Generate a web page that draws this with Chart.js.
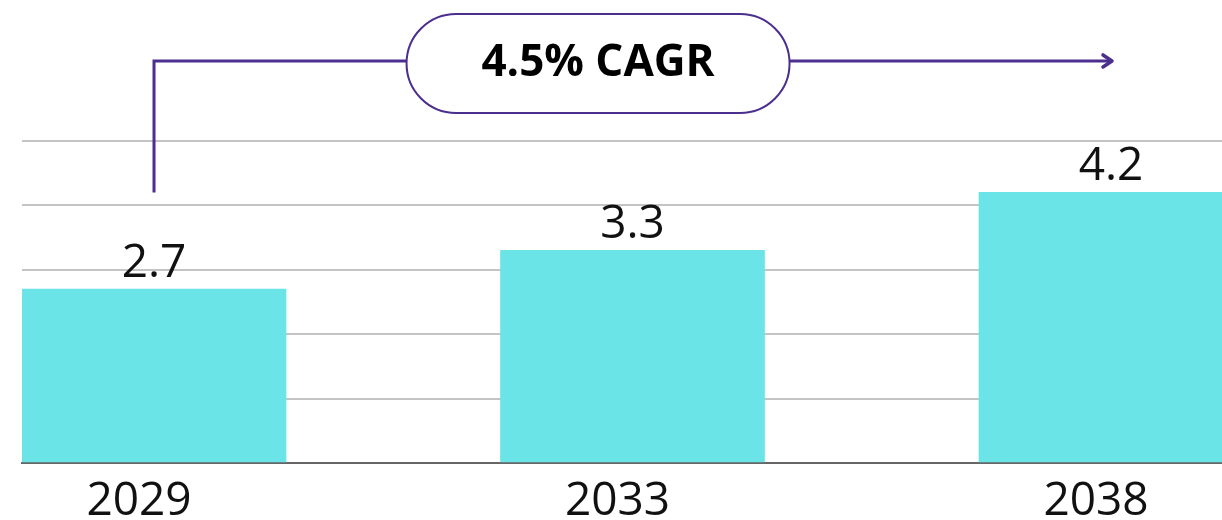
<!DOCTYPE html>
<html>
<head>
<meta charset="utf-8">
<script src="https://cdn.jsdelivr.net/npm/chart.js@4"></script>
<style>
  html, body { margin: 0; padding: 0; background: #fff; }
  #wrap { width: 1222px; height: 520px; position: relative; }
</style>
</head>
<body>
<div id="wrap"><canvas id="chart"></canvas></div>
<script>
  const years = ['2029', '2033', '2038'];
  const values = [2.7, 3.3, 4.2];
  const cagrLabel = '4.5% CAGR';

  const PURPLE = '#4b2e8e';
  const BAR = '#6ae4e7';

  const valueLabels = {
    id: 'valueLabels',
    afterDatasetsDraw(chart) {
      const ctx = chart.ctx;
      const meta = chart.getDatasetMeta(0);
      ctx.save();
      ctx.font = '400 46px "Open Sans"';
      ctx.fillStyle = '#111';
      ctx.textAlign = 'center';
      ctx.textBaseline = 'alphabetic';
      meta.data.forEach((bar, i) => {
        ctx.fillText(String(values[i]), bar.x, bar.y - 12);
      });
      ctx.restore();
    }
  };

  const cagrArrow = {
    id: 'cagrArrow',
    afterDatasetsDraw(chart) {
      const ctx = chart.ctx;
      const meta = chart.getDatasetMeta(0);
      const y = chart.scales.y;
      const first = meta.data[0];
      const last = meta.data[meta.data.length - 1];
      const x0 = first.x;
      const x1 = last.x;
      const yBottom = y.getPixelForValue(Math.max(...values));
      const yLine = y.getPixelForValue(6.24);
      const pillW = 383, pillH = 99;
      const pillCx = x0 + (x1 - x0) * 0.464;
      const pillLeft = pillCx - pillW / 2;
      const pillRight = pillCx + pillW / 2;
      const pillTop = yLine + 2.5 - pillH / 2;

      ctx.save();
      ctx.strokeStyle = PURPLE;
      ctx.lineWidth = 3;
      ctx.lineCap = 'butt';
      ctx.lineJoin = 'miter';
      ctx.beginPath();
      ctx.moveTo(x0, yBottom);
      ctx.lineTo(x0, yLine);
      ctx.lineTo(pillLeft, yLine);
      ctx.stroke();

      ctx.beginPath();
      ctx.moveTo(pillRight, yLine);
      ctx.lineTo(x1 + 1, yLine);
      ctx.stroke();

      ctx.lineWidth = 3.5;
      ctx.lineCap = 'round';
      ctx.lineJoin = 'round';
      ctx.beginPath();
      ctx.moveTo(x1 - 8, yLine - 6);
      ctx.lineTo(x1 + 1, yLine);
      ctx.lineTo(x1 - 8, yLine + 6);
      ctx.stroke();

      ctx.lineWidth = 2;
      ctx.fillStyle = '#fff';
      ctx.beginPath();
      ctx.roundRect(pillLeft, pillTop, pillW, pillH, pillH / 2);
      ctx.fill();
      ctx.stroke();

      ctx.fillStyle = '#000';
      ctx.font = '700 44px "Open Sans"';
      ctx.textAlign = 'center';
      ctx.textBaseline = 'middle';
      ctx.fillText(cagrLabel, pillCx, pillTop + pillH / 2);
      ctx.restore();
    }
  };

  new Chart(document.getElementById('chart'), {
    type: 'bar',
    data: {
      datasets: [{
        data: values.map((v, i) => ({ x: i, y: v })),
        backgroundColor: BAR,
        borderWidth: 0,
        barThickness: 264
      }]
    },
    options: {
      responsive: true,
      maintainAspectRatio: false,
      animation: false,
      layout: { padding: { top: 12, left: 22, right: 0, bottom: 0 } },
      plugins: { legend: { display: false }, tooltip: { enabled: false } },
      scales: {
        x: {
          type: 'linear',
          offset: false,
          min: -0.2759,
          max: 2.232,
          afterBuildTicks: axis => { axis.ticks = years.map((_, i) => ({ value: i })); },
          afterFit: axis => { axis.height = 57; },
          grid: { display: false, drawTicks: false },
          border: { display: true, color: '#666', width: 2 },
          ticks: {
            callback: v => years[v],
            color: '#111',
            font: { family: 'Open Sans', size: 46, weight: 400, lineHeight: 1 },
            padding: 16,
            labelOffset: -15,
            maxRotation: 0,
            autoSkip: false
          }
        },
        y: {
          min: 0,
          max: 7,
          ticks: { display: false, stepSize: 1 },
          border: { display: false },
          grid: {
            drawTicks: false,
            lineWidth: 2,
            color: c => (c.tick.value === 0 ? '#666' : c.tick.value > 5 ? 'rgba(0,0,0,0)' : '#c4c4c4')
          }
        }
      }
    },
    plugins: [valueLabels, cagrArrow]
  });
</script>
</body>
</html>
